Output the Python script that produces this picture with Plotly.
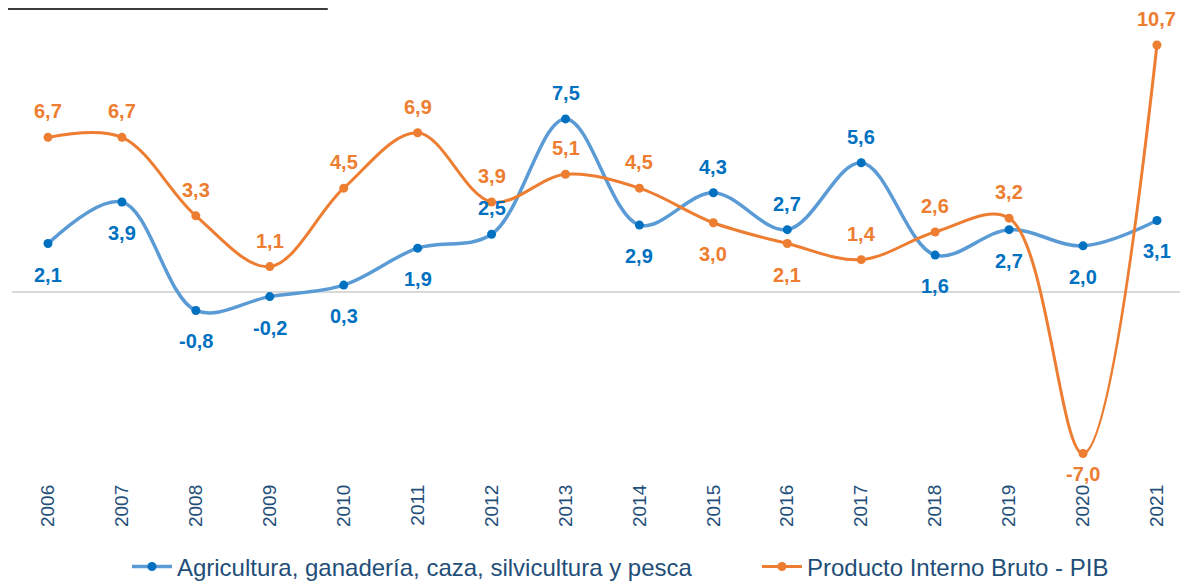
import plotly.graph_objects as go

years = ["2006", "2007", "2008", "2009", "2010", "2011", "2012", "2013",
         "2014", "2015", "2016", "2017", "2018", "2019", "2020", "2021"]
agro = [2.1, 3.9, -0.8, -0.2, 0.3, 1.9, 2.5, 7.5, 2.9, 4.3, 2.7, 5.6, 1.6, 2.7, 2.0, 3.1]
pib = [6.7, 6.7, 3.3, 1.1, 4.5, 6.9, 3.9, 5.1, 4.5, 3.0, 2.1, 1.4, 2.6, 3.2, -7.0, 10.7]
# label placement: 1 = above, -1 = below
agro_pos = [-1, -1, -1, -1, -1, -1, 1, 1, -1, 1, 1, 1, -1, -1, -1, -1]
pib_pos = [1, 1, 1, 1, 1, 1, 1, 1, 1, -1, -1, 1, 1, 1, -1, 1]

names = ["Agricultura, ganadería, caza, silvicultura y pesca",
         "Producto Interno Bruto - PIB"]

BLUE_LINE = "#5B9BD5"
BLUE = "#0070C0"
ORANGE = "#ED7D31"
TEXT = "#1F4E79"
FONT = "Liberation Sans, Arial, sans-serif"

xs = list(range(len(years)))

fig = go.Figure()
fig.add_trace(go.Scatter(
    x=xs, y=agro, name=names[0], mode="lines+markers", legend="legend",
    line=dict(color=BLUE_LINE, width=3.5, shape="spline", smoothing=1),
    marker=dict(color=BLUE, size=9),
))
fig.add_trace(go.Scatter(
    x=xs, y=pib, name=names[1], mode="lines+markers", legend="legend2",
    line=dict(color=ORANGE, width=3, shape="spline", smoothing=1),
    marker=dict(color=ORANGE, size=9),
))

def fmt(v):
    return f"{v:.1f}".replace(".", ",")

annotations = []
for vals, pos, col in ((agro, agro_pos, BLUE), (pib, pib_pos, ORANGE)):
    ymin = min(vals)
    for i, (v, p) in enumerate(zip(vals, pos)):
        if p > 0:
            shift = 26
        elif v == ymin and v < -5:
            shift = -20  # tight label just above the axis tick labels
        else:
            shift = -31
        annotations.append(dict(
            x=i, y=v, text=fmt(v), showarrow=False, yshift=shift,
            font=dict(family=FONT, size=20, color=col, weight="bold"),
        ))

legend_common = dict(orientation="h", y=-0.184, yanchor="middle", xanchor="left",
                     font=dict(family=FONT, size=24, color=TEXT), itemwidth=40,
                     bgcolor="rgba(0,0,0,0)")

fig.update_layout(
    width=1180, height=590,
    margin=dict(l=0, r=0, t=0, b=118),
    paper_bgcolor="white", plot_bgcolor="white",
    font=dict(family=FONT, color=TEXT),
    showlegend=True,
    legend=dict(x=0.1008, **legend_common),
    legend2=dict(x=0.6347, **legend_common),
    xaxis=dict(range=[-0.541, 15.42], tickvals=xs, ticktext=years, tickangle=-90,
               tickfont=dict(family=FONT, size=19, color=TEXT),
               showgrid=False, zeroline=False, showline=False, ticks=""),
    yaxis=dict(range=[-8.146, 12.305], showticklabels=False, showgrid=False,
               zeroline=False, showline=False, ticks=""),
    annotations=annotations,
    shapes=[
        dict(type="line", xref="x", yref="y", x0=-0.487, x1=15.42, y0=0, y1=0,
             line=dict(color="#D9D9D9", width=2), layer="below"),
        dict(type="line", xref="paper", yref="paper", x0=0.0, x1=0.271, y0=0.998, y1=0.998,
             line=dict(color="#3A3A3A", width=2)),
    ],
)

fig.write_html("out.html")
